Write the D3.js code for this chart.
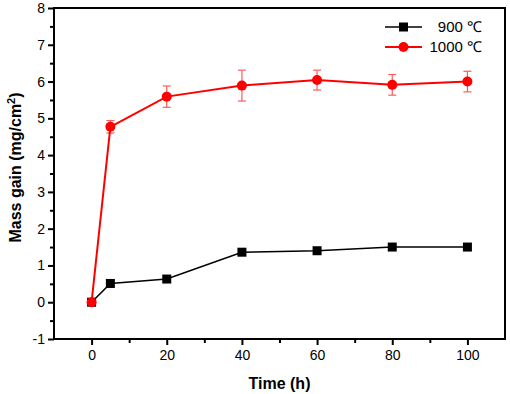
<!DOCTYPE html>
<html><head><meta charset="utf-8">
<script src="https://cdn.jsdelivr.net/npm/d3@7"></script>
<style>body{margin:0;background:#fff}svg{display:block}</style>
</head><body><svg id="c" width="510" height="394"></svg>
<script>
const times = [0, 5, 20, 40, 60, 80, 100];
const gain900 = [0, 0.51, 0.63, 1.36, 1.40, 1.50, 1.50];
const gain1000 = [0, 4.77, 5.59, 5.89, 6.04, 5.91, 6.00];
const err1000 = [0, 0.17, 0.29, 0.42, 0.27, 0.28, 0.28];
const xTicks = [0, 20, 40, 60, 80, 100];
const yTicks = [-1, 0, 1, 2, 3, 4, 5, 6, 7, 8];
const seriesNames = ["900 \u2103", "1000 \u2103"];

const svg = d3.select("#c");
const L = 54, R = 505, T = 8, B = 339;
const x = d3.scaleLinear().domain([-10, 110]).range([L, R]);
const y = d3.scaleLinear().domain([-1, 8]).range([B, T]);
const font = "Arial, 'Liberation Sans', sans-serif";
const fmt = d => String(d);

// frame
svg.append("rect").attr("x", L).attr("y", T).attr("width", R - L).attr("height", B - T)
  .attr("fill", "none").attr("stroke", "#000").attr("stroke-width", 2);

// x axis
const xa = svg.append("g").attr("transform", `translate(0,${B})`)
  .call(d3.axisBottom(x).tickValues(xTicks).tickSize(6).tickPadding(5).tickFormat(fmt));
xa.select(".domain").remove();
xa.selectAll("line").attr("stroke-width", 2);
xa.selectAll("text").attr("font-family", font).attr("font-size", 14).attr("fill", "#000");
svg.append("g").attr("transform", `translate(0,${B})`)
  .call(d3.axisBottom(x).tickValues(d3.range(10, 110, 20)).tickSize(4).tickFormat(""))
  .call(g => g.select(".domain").remove()).selectAll("line").attr("stroke-width", 2);

// y axis
const ya = svg.append("g").attr("transform", `translate(${L},0)`)
  .call(d3.axisLeft(y).tickValues(yTicks).tickSize(6).tickPadding(3).tickFormat(fmt));
ya.select(".domain").remove();
ya.selectAll("line").attr("stroke-width", 2);
ya.selectAll("text").attr("font-family", font).attr("font-size", 14).attr("fill", "#000");
svg.append("g").attr("transform", `translate(${L},0)`)
  .call(d3.axisLeft(y).tickValues(d3.range(-0.5, 8, 1)).tickSize(4).tickFormat(""))
  .call(g => g.select(".domain").remove()).selectAll("line").attr("stroke-width", 2);

// labels
svg.append("text").attr("x", (L + R) / 2).attr("y", 389).attr("text-anchor", "middle")
  .attr("font-family", font).attr("font-weight", "bold").attr("font-size", 16).text("Time (h)");
const yl = svg.append("text").attr("transform", `translate(21,${(T + B) / 2 - 6}) rotate(-90)`)
  .attr("text-anchor", "middle").attr("font-family", font).attr("font-weight", "bold").attr("font-size", 16);
yl.append("tspan").text("Mass gain (mg/cm");
yl.append("tspan").attr("dy", -6).attr("font-size", 11).text("2");
yl.append("tspan").attr("dy", 6).text(")");

const line = d3.line().x(d => x(d[0])).y(d => y(d[1]));
const d900 = times.map((t, i) => [t, gain900[i]]);
const d1000 = times.map((t, i) => [t, gain1000[i], err1000[i]]);

// 900 series
svg.append("path").datum(d900).attr("d", line).attr("fill", "none").attr("stroke", "#000").attr("stroke-width", 1.6);
svg.selectAll(".sq").data(d900).enter().append("rect")
  .attr("x", d => x(d[0]) - 4.5).attr("y", d => y(d[1]) - 4.5).attr("width", 9).attr("height", 9).attr("fill", "#000");

// 1000 error bars
const eb = svg.selectAll(".eb").data(d1000.filter(d => d[2] > 0)).enter().append("g")
  .attr("stroke", "#ff5a5a").attr("stroke-width", 1.2);
eb.append("line").attr("x1", d => x(d[0])).attr("x2", d => x(d[0])).attr("y1", d => y(d[1] + d[2])).attr("y2", d => y(d[1] - d[2]));
eb.append("line").attr("x1", d => x(d[0]) - 4).attr("x2", d => x(d[0]) + 4).attr("y1", d => y(d[1] + d[2])).attr("y2", d => y(d[1] + d[2]));
eb.append("line").attr("x1", d => x(d[0]) - 4).attr("x2", d => x(d[0]) + 4).attr("y1", d => y(d[1] - d[2])).attr("y2", d => y(d[1] - d[2]));

svg.append("path").datum(d1000).attr("d", line).attr("fill", "none").attr("stroke", "#ff0000").attr("stroke-width", 2);
svg.selectAll(".ci").data(d1000).enter().append("circle")
  .attr("cx", d => x(d[0])).attr("cy", d => y(d[1])).attr("r", 5).attr("fill", "#ff0000");

// legend
const lg = svg.append("g");
[["#000", "sq"], ["#ff0000", "ci"]].forEach((s, i) => {
  const yy = 27 + i * 20;
  lg.append("line").attr("x1", 385).attr("x2", 422).attr("y1", yy).attr("y2", yy)
    .attr("stroke", s[0]).attr("stroke-width", i ? 2 : 1.6);
  if (s[1] === "sq") lg.append("rect").attr("x", 399).attr("y", yy - 4.5).attr("width", 9).attr("height", 9).attr("fill", s[0]);
  else lg.append("circle").attr("cx", 403.5).attr("cy", yy).attr("r", 5).attr("fill", s[0]);
  lg.append("text").attr("x", 482).attr("y", yy + 5).attr("text-anchor", "end")
    .attr("font-family", font).attr("font-size", 15).text(seriesNames[i]);
});
</script></body></html>
